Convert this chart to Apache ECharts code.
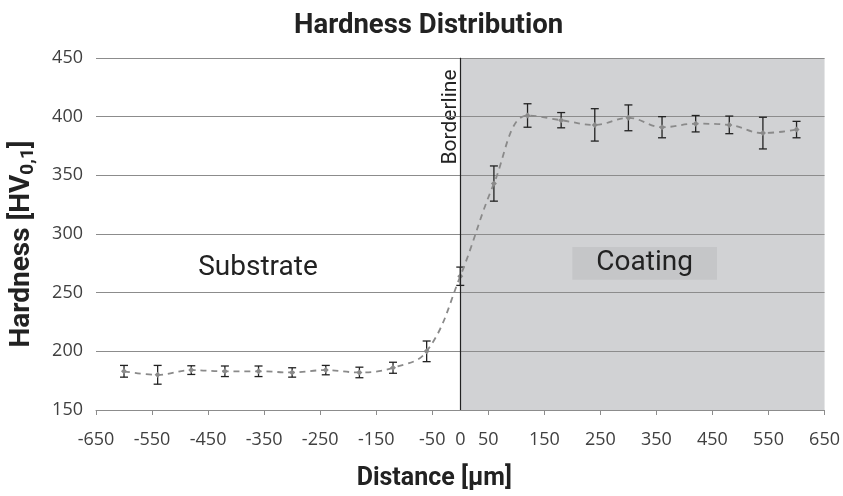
<!DOCTYPE html>
<html>
<head>
<meta charset="utf-8">
<script src="https://cdn.jsdelivr.net/npm/echarts@6/dist/echarts.min.js"></script>
<style>
  html, body { margin: 0; padding: 0; background: #fff; }
  #chart { width: 843px; height: 496px; }
</style>
</head>
<body>
<div id="chart"></div>
<script>
// measurement positions (µm) and mean hardness with error half-width
const distance = [-600, -540, -480, -420, -360, -300, -240, -180, -120, -60, 0, 60, 120, 180, 240, 300, 360, 420, 480, 540, 600];
const hardness = [183, 180, 184, 183, 183, 182, 184, 182, 186, 200, 264, 343, 401, 397, 393, 399, 391, 394, 393, 386, 389];
const errorBar = [5, 8, 3.7, 4.5, 4.5, 4, 4, 4.5, 4.7, 8.8, 7.8, 15, 10, 6.5, 13.8, 11, 9, 7, 7.5, 13.5, 7];

const xTickValues = [-650, -550, -450, -350, -250, -150, -50, 50, 150, 250, 350, 450, 550, 650];
const xLabelValues = [-650, -550, -450, -350, -250, -150, -50, 0, 50, 150, 250, 350, 450, 550, 650];

const coatingBox = [[200, 261], [458, 289]];

const labelFont = "'Open Sans', sans-serif";
const textFont = "Roboto, sans-serif";

const chart = echarts.init(document.getElementById("chart"));

const renderErrorBar = (params, api) => {
  const x = api.value(0);
  const lo = api.coord([x, api.value(1)]);
  const hi = api.coord([x, api.value(2)]);
  const w = 4;
  const style = { stroke: "#222", lineWidth: 1.3 };
  return {
    type: "group",
    children: [
      { type: "line", shape: { x1: lo[0], y1: lo[1], x2: hi[0], y2: hi[1] }, style },
      { type: "line", shape: { x1: lo[0] - w, y1: lo[1], x2: lo[0] + w, y2: lo[1] }, style },
      { type: "line", shape: { x1: hi[0] - w, y1: hi[1], x2: hi[0] + w, y2: hi[1] }, style },
    ],
  };
};

chart.setOption({
  animation: false,
  title: {
    text: "Hardness Distribution",
    left: 289,
    top: 7,
    textStyle: { fontFamily: textFont, fontSize: 27.5, fontWeight: "bold", color: "#222" },
  },
  grid: { left: 96, right: 17, top: 58, bottom: 85 },
  xAxis: {
    type: "value",
    min: -650,
    max: 650,
    z: 2,
    name: "Distance [µm]",
    nameLocation: "middle",
    nameGap: 56,
    nameTextStyle: { fontFamily: textFont, fontSize: 25, fontWeight: "bold", color: "#222", padding: [0, 52, 0, 0] },
    axisLine: { lineStyle: { color: "#8c8c8c" } },
    axisTick: { show: true, length: 5, lineStyle: { color: "#8c8c8c" }, customValues: xTickValues },
    axisLabel: {
      customValues: xLabelValues,
      margin: 21,
      fontFamily: labelFont,
      fontSize: 18,
      color: "#404040",
    },
    splitLine: { show: false },
  },
  yAxis: {
    type: "value",
    min: 150,
    max: 450,
    interval: 50,
    z: 2,
    name: "{a|Hardness [HV}{s|0,1}{a|]}",
    nameLocation: "middle",
    nameGap: 58,
    nameTextStyle: {
      padding: [0, 20, 0, 0],
      rich: {
        a: { fontFamily: textFont, fontSize: 28, fontWeight: "bold", color: "#222", lineHeight: 32 },
        s: { fontFamily: textFont, fontSize: 19, fontWeight: "bold", color: "#222", verticalAlign: "bottom", lineHeight: 32, padding: [9, 0, 0, 0] },
      },
    },
    axisLine: { show: true, lineStyle: { color: "#8c8c8c" } },
    axisTick: { show: true, length: 5, lineStyle: { color: "#8c8c8c" } },
    axisLabel: { margin: 13, fontFamily: labelFont, fontSize: 18, color: "#404040" },
    splitLine: { lineStyle: { color: "#8c8c8c", width: 1 } },
  },
  series: [
    {
      name: "regions",
      type: "line",
      data: [],
      z: 1,
      silent: true,
      markArea: {
        silent: true,
        label: { show: false },
        data: [
          [{ xAxis: 0, yAxis: 150, itemStyle: { color: "#d1d2d4" } }, { xAxis: 650, yAxis: 450 }],
          [
            {
              xAxis: coatingBox[0][0],
              yAxis: coatingBox[0][1],
              itemStyle: { color: "#c5c6c8" },
              label: {
                show: true,
                position: "inside",
                formatter: "Coating",
                fontFamily: textFont,
                fontSize: 28,
                color: "#222",
              },
            },
            { xAxis: coatingBox[1][0], yAxis: coatingBox[1][1] },
          ],
        ],
      },
    },
    {
      name: "error",
      type: "custom",
      z: 3,
      renderItem: renderErrorBar,
      data: distance.map((d, i) => [d, hardness[i] - errorBar[i], hardness[i] + errorBar[i]]),
    },
    {
      name: "Hardness",
      type: "line",
      z: 4,
      smooth: 0.4,
      data: distance.map((d, i) => [d, hardness[i]]),
      symbol: "diamond",
      symbolSize: 6,
      itemStyle: { color: "#8a8a8a" },
      lineStyle: { color: "#8a8a8a", width: 1.8, type: [6, 5] },
      markLine: {
        silent: true,
        symbol: "none",
        label: { show: false },
        lineStyle: { color: "#222", type: "solid", width: 1.2 },
        data: [{ xAxis: 0 }],
      },
    },
  ],
  graphic: [
    {
      type: "text",
      x: 258,
      y: 268,
      style: {
        text: "Substrate",
        font: "28px Roboto, sans-serif",
        fill: "#222",
        align: "center",
        verticalAlign: "middle",
      },
    },
    {
      type: "text",
      x: 451,
      y: 117,
      rotation: Math.PI / 2,
      style: {
        text: "Borderline",
        font: "21px Roboto, sans-serif",
        fill: "#222",
        align: "center",
        verticalAlign: "middle",
      },
    },
  ],
});
</script>
</body>
</html>
